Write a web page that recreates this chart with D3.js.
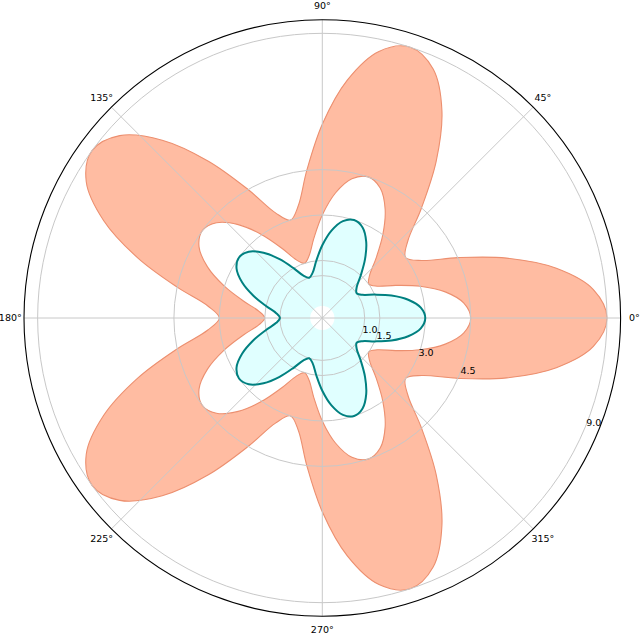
<!DOCTYPE html>
<html>
<head>
<meta charset="utf-8">
<script src="https://cdn.jsdelivr.net/npm/d3@7"></script>
<style>
  html, body { margin: 0; padding: 0; background: #fff; }
  svg text { font-family: "DejaVu Sans", sans-serif; fill: #000; }
</style>
</head>
<body>
<svg id="chart" width="640" height="634"></svg>
<script>
// Angles of the samples, degrees (matplotlib convention: 0 = east, counter-clockwise)
var angles = d3.range(0, 360, 6);

// Teal curve (filled from 0 out to it)
var tealR = [
  3.0, 2.87, 2.5, 2.0, 1.5, 1.13, 1.0, 1.13, 1.5, 2.0, 2.5, 2.87,
  3.0, 2.87, 2.5, 2.0, 1.5, 1.13, 1.0, 1.13, 1.5, 2.0, 2.5, 2.87,
  3.0, 2.87, 2.5, 2.0, 1.5, 1.13, 1.0, 1.13, 1.5, 2.0, 2.5, 2.87,
  3.0, 2.87, 2.5, 2.0, 1.5, 1.13, 1.0, 1.13, 1.5, 2.0, 2.5, 2.87,
  3.0, 2.87, 2.5, 2.0, 1.5, 1.13, 1.0, 1.13, 1.5, 2.0, 2.5, 2.87
];

// Salmon band: inner edge
var bandInner = [
  4.5, 4.3, 3.75, 3.0, 2.25, 1.7, 1.5, 1.7, 2.25, 3.0, 3.75, 4.3,
  4.5, 4.3, 3.75, 3.0, 2.25, 1.7, 1.5, 1.7, 2.25, 3.0, 3.75, 4.3,
  4.5, 4.3, 3.75, 3.0, 2.25, 1.7, 1.5, 1.7, 2.25, 3.0, 3.75, 4.3,
  4.5, 4.3, 3.75, 3.0, 2.25, 1.7, 1.5, 1.7, 2.25, 3.0, 3.75, 4.3,
  4.5, 4.3, 3.75, 3.0, 2.25, 1.7, 1.5, 1.7, 2.25, 3.0, 3.75, 4.3
];

// Salmon band: outer edge
var bandOuter = [
  9.0, 8.6, 7.5, 6.0, 4.5, 3.4, 3.0, 3.4, 4.5, 6.0, 7.5, 8.6,
  9.0, 8.6, 7.5, 6.0, 4.5, 3.4, 3.0, 3.4, 4.5, 6.0, 7.5, 8.6,
  9.0, 8.6, 7.5, 6.0, 4.5, 3.4, 3.0, 3.4, 4.5, 6.0, 7.5, 8.6,
  9.0, 8.6, 7.5, 6.0, 4.5, 3.4, 3.0, 3.4, 4.5, 6.0, 7.5, 8.6,
  9.0, 8.6, 7.5, 6.0, 4.5, 3.4, 3.0, 3.4, 4.5, 6.0, 7.5, 8.6
];

var rTicks = [1.0, 1.5, 3.0, 4.5, 9.0];
var thetaTicks = [0, 45, 90, 135, 180, 225, 270, 315];
var rDomain = [-0.4, 9.45];

var cx = 322.3, cy = 318, R = 298.3;
var svg = d3.select("#chart");
var g = svg.append("g").attr("transform", "translate(" + cx + "," + cy + ")");

var r = d3.scaleLinear().domain(rDomain).range([0, R]);
// theta in degrees -> d3 radial angle (0 at top, clockwise)
function ang(deg) { return Math.PI / 2 - deg * Math.PI / 180; }

var pts = angles.map(function (a, i) {
  return { a: a, teal: tealR[i], inner: bandInner[i], outer: bandOuter[i] };
});

var curve = d3.curveCatmullRomClosed.alpha(0.5);

// Cyan fill from r=0 to teal curve
var cyanArea = d3.areaRadial()
  .angle(function (d) { return ang(d.a); })
  .innerRadius(r(0))
  .outerRadius(function (d) { return r(d.teal); })
  .curve(curve);

g.append("path")
  .datum(pts)
  .attr("d", cyanArea)
  .attr("fill", "#e0ffff")
  .attr("stroke", "none");

// Salmon band: fill built from two closed loops (evenodd)
function loop(key) {
  return d3.lineRadial()
    .angle(function (d) { return ang(d.a); })
    .radius(function (d) { return r(d[key]); })
    .curve(curve)(pts);
}

g.append("path")
  .attr("d", loop("outer") + loop("inner"))
  .attr("fill", "#ffa07a")
  .attr("fill-opacity", 0.7)
  .attr("fill-rule", "evenodd")
  .attr("stroke", "none");

["outer", "inner"].forEach(function (k) {
  g.append("path")
    .attr("d", loop(k))
    .attr("fill", "none")
    .attr("stroke", "#ec8f6f")
    .attr("stroke-width", 1.1);
});

// Grid
var grid = g.append("g").attr("class", "grid");
grid.selectAll("circle")
  .data(rTicks)
  .join("circle")
  .attr("r", function (d) { return r(d); })
  .attr("fill", "none")
  .attr("stroke", "#c8c8c8")
  .attr("stroke-width", 1);

grid.selectAll("line")
  .data(thetaTicks)
  .join("line")
  .attr("x1", 0).attr("y1", 0)
  .attr("x2", function (d) { return R * Math.cos(d * Math.PI / 180); })
  .attr("y2", function (d) { return -R * Math.sin(d * Math.PI / 180); })
  .attr("stroke", "#c8c8c8")
  .attr("stroke-width", 1);

// Teal line
g.append("path")
  .attr("d", loop("teal"))
  .attr("fill", "none")
  .attr("stroke", "#008080")
  .attr("stroke-width", 2);

// Outer spine
g.append("circle")
  .attr("r", R)
  .attr("fill", "none")
  .attr("stroke", "#000")
  .attr("stroke-width", 1.1);

// Angle labels
g.selectAll(".tlabel")
  .data(thetaTicks)
  .join("text")
  .attr("class", "tlabel")
  .attr("x", function (d) { return 312 * Math.cos(d * Math.PI / 180); })
  .attr("y", function (d) { return -312 * Math.sin(d * Math.PI / 180); })
  .attr("text-anchor", "middle")
  .attr("dy", "0.35em")
  .attr("font-size", 9.5)
  .text(function (d) { return d + "\u00b0"; });

// Radial labels at -22.5 degrees
var labA = -22.5 * Math.PI / 180;
g.selectAll(".rlabel")
  .data(rTicks)
  .join("text")
  .attr("class", "rlabel")
  .attr("x", function (d) { return r(d) * Math.cos(labA) + 1; })
  .attr("y", function (d) { return -r(d) * Math.sin(labA) - 1; })
  .attr("text-anchor", "start")
  .attr("font-size", 9.5)
  .text(function (d) { return d.toFixed(1); });
</script>
</body>
</html>
